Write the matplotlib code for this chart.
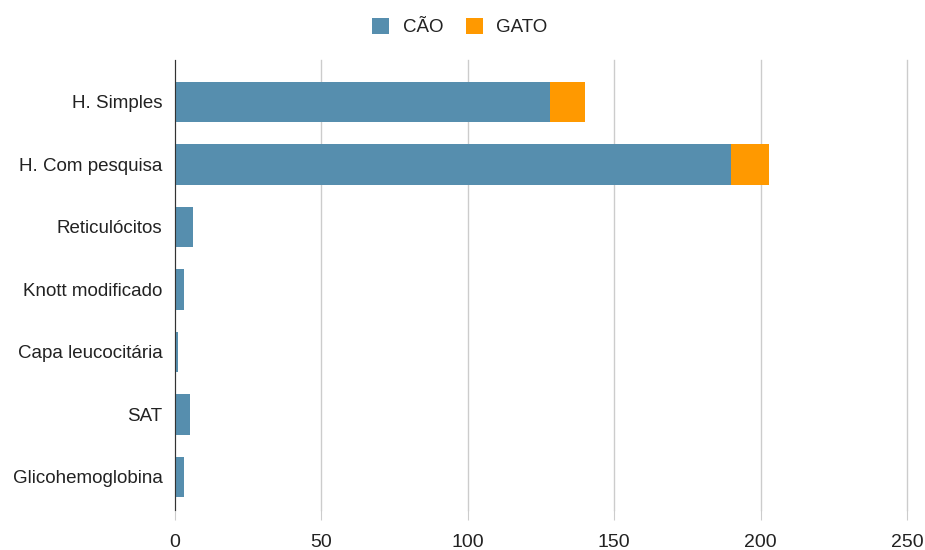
import matplotlib
matplotlib.use("Agg")
import matplotlib.pyplot as plt
import numpy as np

plt.rcParams['font.family'] = ['Liberation Sans', 'DejaVu Sans']

categories = ["H. Simples", "H. Com pesquisa", "Reticulócitos", "Knott modificado",
              "Capa leucocitária", "SAT", "Glicohemoglobina"]
cao = [128, 190, 6, 3, 1, 5, 3]
gato = [12, 13, 0, 0, 0, 0, 0]
xticks = [0, 50, 100, 150, 200, 250]

fig = plt.figure(figsize=(9.25, 5.5), dpi=100)
ax = fig.add_axes([175/925, 1-510/550, (907-175)/925, (510-60)/550])

y = np.arange(len(categories))
h = 0.65
c_cao = "#568eae"
c_gato = "#ff9900"
ax.barh(y, cao, height=h, color=c_cao, label="CÃO", zorder=3)
ax.barh(y, gato, left=cao, height=h, color=c_gato, label="GATO", zorder=3)

ax.set_xlim(0, 250)
ax.set_ylim(6.53, -0.67)
ax.set_xticks(xticks)
ax.set_xticklabels([str(t) for t in xticks], fontsize=14, color="#222222")
ax.set_yticks(y)
ax.set_yticklabels(categories, fontsize=13.5, color="#222222")
ax.tick_params(axis='y', length=0, pad=9)
ax.tick_params(axis='x', length=7, color="#cccccc", pad=10)
ax.xaxis.grid(True, color="#cccccc", linewidth=1, zorder=0)
for gl in ax.get_xgridlines():
    gl.set_clip_on(False)
for s in ["top", "right", "bottom"]:
    ax.spines[s].set_visible(False)
ax.spines["left"].set_color("#333333")
ax.spines["left"].set_zorder(4)

fig.legend(loc="center", bbox_to_anchor=(0.497, 1-27/550), ncol=2, frameon=False,
           fontsize=13.5, handlelength=0.92, handleheight=1.0, columnspacing=1.2,
           handletextpad=0.7, labelcolor="#222222")

fig.savefig("out.png", dpi=100, facecolor="white")
